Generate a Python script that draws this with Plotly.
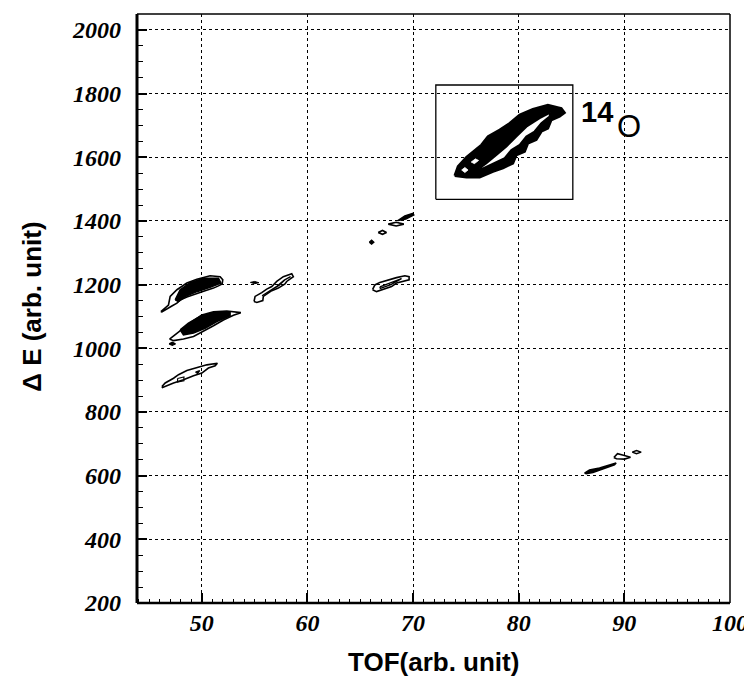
import plotly.graph_objects as go

# ---------------- data ----------------
x_range = [43.86, 100]
y_range = [200, 2050]
x_ticks = [50, 60, 70, 80, 90, 100]
y_ticks = [200, 400, 600, 800, 1000, 1200, 1400, 1600, 1800, 2000]

# 14O gate box
box_x = [72.15, 85.12, 85.12, 72.15, 72.15]
box_y = [1468, 1468, 1827, 1827, 1468]

# 14O locus: outer and inner contour
o14_outer_x = [73.94, 74.25, 75.05, 75.67, 76.47, 77.09, 78.20, 79.14, 80.09, 81.34, 82.76, 84.03,
               84.34, 83.87, 83.08, 82.76, 82.14, 81.66, 80.87, 80.56, 79.77, 79.45, 78.51, 77.56,
               76.30, 75.05, 73.94]
o14_outer_y = [1542, 1571, 1600, 1618, 1639, 1665, 1686, 1707, 1733, 1751, 1764, 1754,
               1740, 1728, 1717, 1691, 1681, 1655, 1644, 1618, 1607, 1581, 1566, 1555,
               1537, 1537, 1542]
o14_inner_x = [76.30, 76.94, 77.88, 78.83, 79.77, 80.72, 81.98, 82.99, 82.92, 82.14, 81.50, 80.72,
               80.09, 79.30, 78.67, 77.56, 76.47, 76.30]
o14_inner_y = [1566, 1581, 1607, 1634, 1665, 1696, 1723, 1740, 1728, 1707, 1681, 1665,
               1639, 1623, 1597, 1581, 1563, 1566]
# small white gaps inside the dense lower-left end of the 14O band
o14_gap1_x = [74.6, 74.9, 75.2, 74.9, 74.6]
o14_gap1_y = [1560, 1568, 1560, 1552, 1560]
o14_gap2_x = [75.5, 75.9, 76.2, 75.8, 75.5]
o14_gap2_y = [1585, 1595, 1590, 1580, 1585]

# blob A (~1120-1225)
a_outer_x = [46.12, 46.84, 47.00, 47.64, 48.58, 49.53, 50.78, 51.73, 51.98, 51.92, 51.57, 51.10,
             50.31, 49.53, 48.58, 47.95, 47.64, 47.16, 46.22, 46.12]
a_outer_y = [1115, 1136, 1163, 1184, 1205, 1217, 1228, 1225, 1215, 1202, 1196, 1189,
             1181, 1173, 1161, 1152, 1142, 1133, 1114, 1115]
a_core_x = [47.48, 47.95, 48.89, 50.15, 51.57, 51.80, 50.78, 49.53, 48.42, 47.79, 47.48]
a_core_y = [1152, 1184, 1206, 1220, 1220, 1205, 1192, 1178, 1163, 1147, 1152]

# blob B (~1020-1115)
b_outer_x = [46.94, 47.64, 48.26, 49.05, 50.00, 51.10, 52.36, 53.69, 52.99, 52.04, 51.10, 50.15,
             49.21, 48.26, 47.32, 46.94]
b_outer_y = [1029, 1048, 1063, 1084, 1105, 1115, 1117, 1112, 1104, 1089, 1071, 1053,
             1037, 1029, 1024, 1029]
b_core_x = [47.95, 48.73, 49.84, 51.10, 52.67, 52.67, 51.42, 50.31, 49.21, 48.26, 47.95]
b_core_y = [1058, 1079, 1100, 1112, 1112, 1102, 1084, 1063, 1048, 1042, 1058]
b_small_x = [46.9, 47.2, 47.5, 47.2, 46.9]
b_small_y = [1014, 1019, 1014, 1009, 1014]

# blob C (~880-955)
c_outer_x = [46.22, 46.53, 47.32, 47.79, 48.58, 49.53, 50.47, 51.47, 51.26, 50.62, 50.00, 49.21,
             48.26, 47.32, 46.69, 46.28, 46.22]
c_outer_y = [880, 891, 906, 917, 930, 938, 948, 953, 945, 938, 922, 914,
             901, 891, 882, 877, 880]
c_in1_x = [47.7, 48.3, 48.3, 47.7, 47.7]
c_in1_y = [905, 910, 898, 894, 905]
c_in2_x = [49.4, 49.8, 49.6, 49.4]
c_in2_y = [925, 930, 921, 925]

# blob D (~1145-1235)
d_outer_x = [54.94, 55.04, 55.67, 56.14, 56.62, 57.09, 57.71, 58.51, 58.66, 58.03, 57.87, 57.24,
             56.62, 56.14, 55.82, 55.77, 55.20, 54.94]
d_outer_y = [1147, 1163, 1175, 1186, 1194, 1210, 1225, 1234, 1225, 1210, 1202, 1189,
             1181, 1171, 1163, 1150, 1144, 1147]
d_inner_x = [55.7, 56.5, 57.3, 57.9, 58.4, 57.8, 57.1, 56.3, 55.7]
d_inner_y = [1165, 1181, 1197, 1216, 1225, 1214, 1195, 1178, 1165]
d_dash_x = [54.6, 55.0, 55.4, 55.0, 54.6]
d_dash_y = [1207, 1210, 1206, 1203, 1207]

# blob E (~1180-1230)
e_outer_x = [66.16, 66.38, 66.85, 67.64, 68.43, 69.22, 69.62, 69.62, 69.05, 68.43, 67.96, 67.16,
             66.54, 66.16]
e_outer_y = [1184, 1199, 1207, 1215, 1222, 1228, 1225, 1215, 1210, 1205, 1194, 1184,
             1178, 1184]
e_inner_x = [66.85, 67.8, 68.9, 67.9, 66.9, 66.85]
e_inner_y = [1193, 1206, 1219, 1200, 1188, 1193]

# small islands between 1330 and 1425
s1_x = [65.85, 66.07, 66.29, 66.07, 65.85]
s1_y = [1333, 1340, 1333, 1327, 1333]
s2_x = [66.69, 67.1, 67.48, 67.1, 66.69]
s2_y = [1364, 1370, 1364, 1358, 1364]
s3_x = [67.64, 68.4, 69.12, 68.4, 67.64]
s3_y = [1390, 1396, 1390, 1384, 1390]
s4_x = [68.55, 69.22, 69.97, 70.07, 69.31, 68.64, 68.55]
s4_y = [1401, 1416, 1424, 1419, 1406, 1400, 1401]

# blob F (~600-680)
f_tail_x = [86.23, 86.70, 87.65, 88.59, 89.22, 89.06, 87.96, 87.02, 86.39, 86.23]
f_tail_y = [608, 618, 624, 634, 640, 634, 621, 610, 606, 608]
f_loop_x = [89.0, 89.35, 89.92, 90.58, 90.01, 89.25, 89.0]
f_loop_y = [657, 669, 664, 658, 652, 653, 657]
f_ring_x = [90.74, 91.15, 91.59, 91.15, 90.74]
f_ring_y = [674, 679, 674, 669, 674]

label_14 = "14"
label_O = "O"
x_title = "TOF(arb. unit)"
y_title = "\u0394 E (arb. unit)"

# ---------------- figure ----------------
fig = go.Figure()


def contour(xs, ys, fill=None, width=1.6, line_color="black"):
    fig.add_trace(go.Scatter(
        x=xs, y=ys, mode="lines",
        line=dict(color=line_color, width=width),
        fill="toself" if fill else None,
        fillcolor=fill,
        hoverinfo="skip", showlegend=False,
    ))


# gate box
contour(box_x, box_y, width=1.3)

# 14O band
contour(o14_outer_x, o14_outer_y, fill="black", width=2.5)
contour(o14_inner_x, o14_inner_y, fill="white", width=2.0)
contour(o14_gap1_x, o14_gap1_y, fill="white", width=0.8, line_color="white")
contour(o14_gap2_x, o14_gap2_y, fill="white", width=0.8, line_color="white")

# A
contour(a_outer_x, a_outer_y, width=1.6)
contour(a_core_x, a_core_y, fill="black", width=1.6)
# B
contour(b_outer_x, b_outer_y, width=1.6)
contour(b_core_x, b_core_y, fill="black", width=1.6)
contour(b_small_x, b_small_y, fill="black", width=1.2)
# C
contour(c_outer_x, c_outer_y, width=1.6)
contour(c_in1_x, c_in1_y, width=1.2)
contour(c_in2_x, c_in2_y, fill="black", width=1.2)
# D
contour(d_outer_x, d_outer_y, width=1.6)
contour(d_inner_x, d_inner_y, width=1.3)
contour(d_dash_x, d_dash_y, fill="black", width=1.0)
# E
contour(e_outer_x, e_outer_y, width=1.6)
contour(e_inner_x, e_inner_y, width=1.3)
# small islands
contour(s1_x, s1_y, fill="black", width=1.2)
contour(s2_x, s2_y, width=1.6)
contour(s3_x, s3_y, width=1.6)
contour(s4_x, s4_y, fill="black", width=1.4)
# F
contour(f_tail_x, f_tail_y, fill="black", width=1.6)
contour(f_loop_x, f_loop_y, width=1.6)
contour(f_ring_x, f_ring_y, width=1.4)

tick_font = dict(family="Liberation Serif, Times New Roman, serif", size=24,
                 color="black", weight="bold", style="italic")

fig.update_xaxes(
    range=x_range, tickvals=x_ticks, ticktext=[str(v) for v in x_ticks],
    ticks="inside", ticklen=10, tickwidth=1.5, tickcolor="black",
    minor=dict(dtick=1, tick0=50, ticks="inside", ticklen=4, tickwidth=1, tickcolor="black",
               showgrid=False),
    showgrid=True, gridcolor="black", gridwidth=1.3, griddash="dot",
    showline=False, zeroline=False, automargin=False,
    tickfont=tick_font, ticklabelstandoff=3,
)
fig.update_yaxes(
    range=y_range, tickvals=y_ticks, ticktext=[str(v) for v in y_ticks],
    ticks="inside", ticklen=10, tickwidth=1.5, tickcolor="black",
    minor=dict(dtick=50, tick0=200, ticks="inside", ticklen=6, tickwidth=1.2, tickcolor="black",
               showgrid=False),
    showgrid=True, gridcolor="black", gridwidth=1.3, griddash="dot",
    showline=False, zeroline=False, automargin=False,
    tickfont=tick_font, ticklabelstandoff=15,
)

# frame
frame = [
    dict(x0=0, x1=0, y0=0, y1=1, w=3),
    dict(x0=0, x1=1, y0=0, y1=0, w=2.5),
    dict(x0=0, x1=1, y0=1, y1=1, w=1.5),
    dict(x0=1, x1=1, y0=0, y1=1, w=1.5),
]
for f in frame:
    fig.add_shape(type="line", xref="paper", yref="paper",
                  x0=f["x0"], x1=f["x1"], y0=f["y0"], y1=f["y1"],
                  line=dict(color="black", width=f["w"]))

ann_font = dict(family="Liberation Sans, Arial, sans-serif", size=29, color="black", weight="bold")
fig.add_annotation(x=87.41, y=1741, text=label_14, showarrow=False, font=ann_font,
                   xanchor="center", yanchor="middle")
fig.add_annotation(x=90.43, y=1697, text=label_O, showarrow=False,
                   font=dict(family="Liberation Sans, Arial, sans-serif", size=31, color="black"),
                   xanchor="center", yanchor="middle")

title_font = dict(family="Liberation Sans, Arial, sans-serif", size=26, color="black", weight="bold")
fig.add_annotation(xref="paper", yref="paper", x=0.5, y=-0.10, text=x_title,
                   showarrow=False, font=title_font, xanchor="center", yanchor="middle")
fig.add_annotation(xref="paper", yref="paper", x=-0.177, y=0.503, text=y_title,
                   showarrow=False, font=title_font, textangle=-90,
                   xanchor="center", yanchor="middle")

# the page body adds an 8 px margin, so the figure is 8 px smaller on each axis
fig.update_layout(
    width=744, height=671,
    margin=dict(l=129, r=22, t=6, b=76, autoexpand=False),
    plot_bgcolor="white", paper_bgcolor="white",
    showlegend=False,
)

fig.write_html("out.html")
